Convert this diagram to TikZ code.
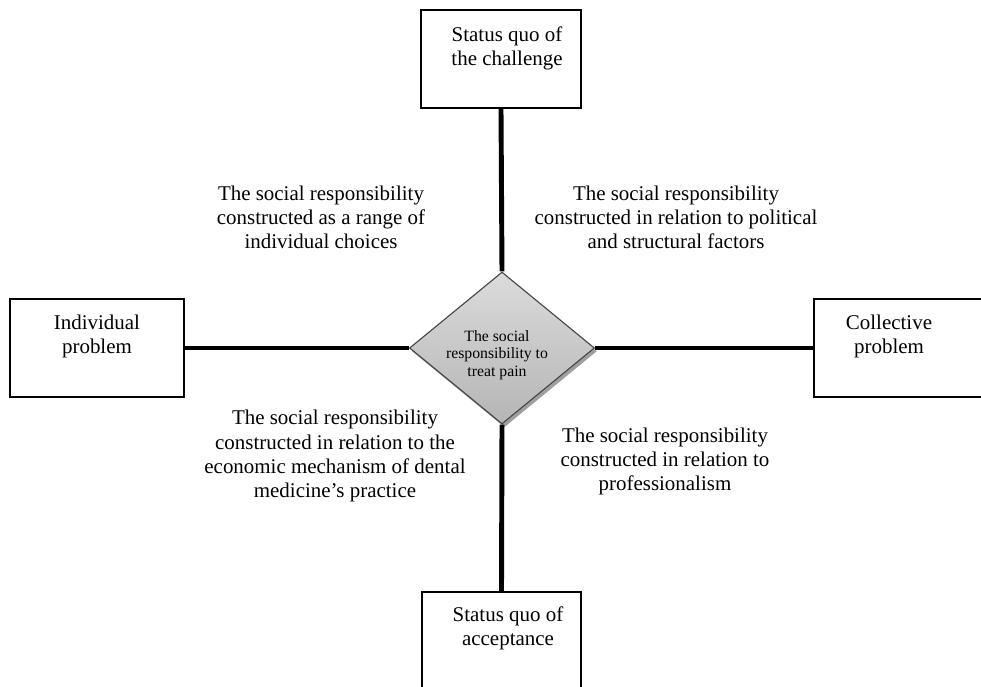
\documentclass[tikz,border=0pt]{standalone}
\usepackage{fontspec}
\setmainfont{Liberation Serif}
\usetikzlibrary{shapes.geometric}
\tikzset{link/.style={line width=3.5pt,black},
         cornerbox/.style={draw,line width=1.1pt,rectangle,minimum height=2.45cm,inner sep=0pt},
         bigtext/.style={align=center,inner sep=0pt,font=\fontsize{14.9}{17.1}\selectfont},
         hub/.style={diamond,draw=gray!55!black,line width=0.8pt,top color=gray!28,bottom color=gray!58,minimum width=4.625cm,minimum height=3.8cm,inner sep=0pt},
         hubshadow/.style={diamond,fill=gray!75,minimum width=4.625cm,minimum height=3.8cm,inner sep=0pt}}

\begin{document}
\begin{tikzpicture}
                  \useasboundingbox (0,0) rectangle (24.525,-17.175);
                  \node[cornerbox,minimum width=4cm] (chal) at (12.525,-1.475) {};
                  \node[cornerbox,minimum width=4.35cm] (indiv) at (2.425,-8.7) {};
                  \node[cornerbox,minimum width=5cm] (coll) at (22.85,-8.7) {};
                  \node[cornerbox,minimum width=3.975cm] (accept) at (12.5375,-16.025) {};
                  \node[hubshadow] (coreshadow) at (12.61,-8.78) {};
                  \node[hub] (core) at (12.55,-8.7) {};
                  \node[align=center,inner sep=0pt,font=\fontsize{11.2}{12.4}\selectfont] (coretxt) at (12.425,-8.875) {The social\\responsibility to\\treat pain};
                  \draw[link] (chal.south) -- (core.north);
                  \draw[link] (core.south) -- (accept.north);
                  \draw[link] (indiv.east) -- (core.west);
                  \draw[link] (core.east) -- (coll.west);
                  \node[bigtext] (chaltxt) at (12.675,-1.2) {Status quo of\\the challenge};
                  \node[bigtext] (indivtxt) at (2.425,-8.4125) {Individual\\problem};
                  \node[bigtext] (colltxt) at (22.225,-8.4125) {Collective\\problem};
                  \node[bigtext] (accepttxt) at (12.7,-15.7) {Status quo of\\acceptance};
                  \node[bigtext] (choices) at (8.025,-5.425) {The social responsibility\\constructed as a range of\\individual choices};
                  \node[bigtext] (politics) at (16.9,-5.425) {The social responsibility\\constructed in relation to political\\and structural factors};
                  \node[bigtext] (economy) at (8.375,-11.4) {The social responsibility\\constructed in relation to the\\economic mechanism of dental\\medicine’s practice};
                  \node[bigtext] (profession) at (16.625,-11.525) {The social responsibility\\constructed in relation to\\professionalism};
              \end{tikzpicture}
\end{document}
